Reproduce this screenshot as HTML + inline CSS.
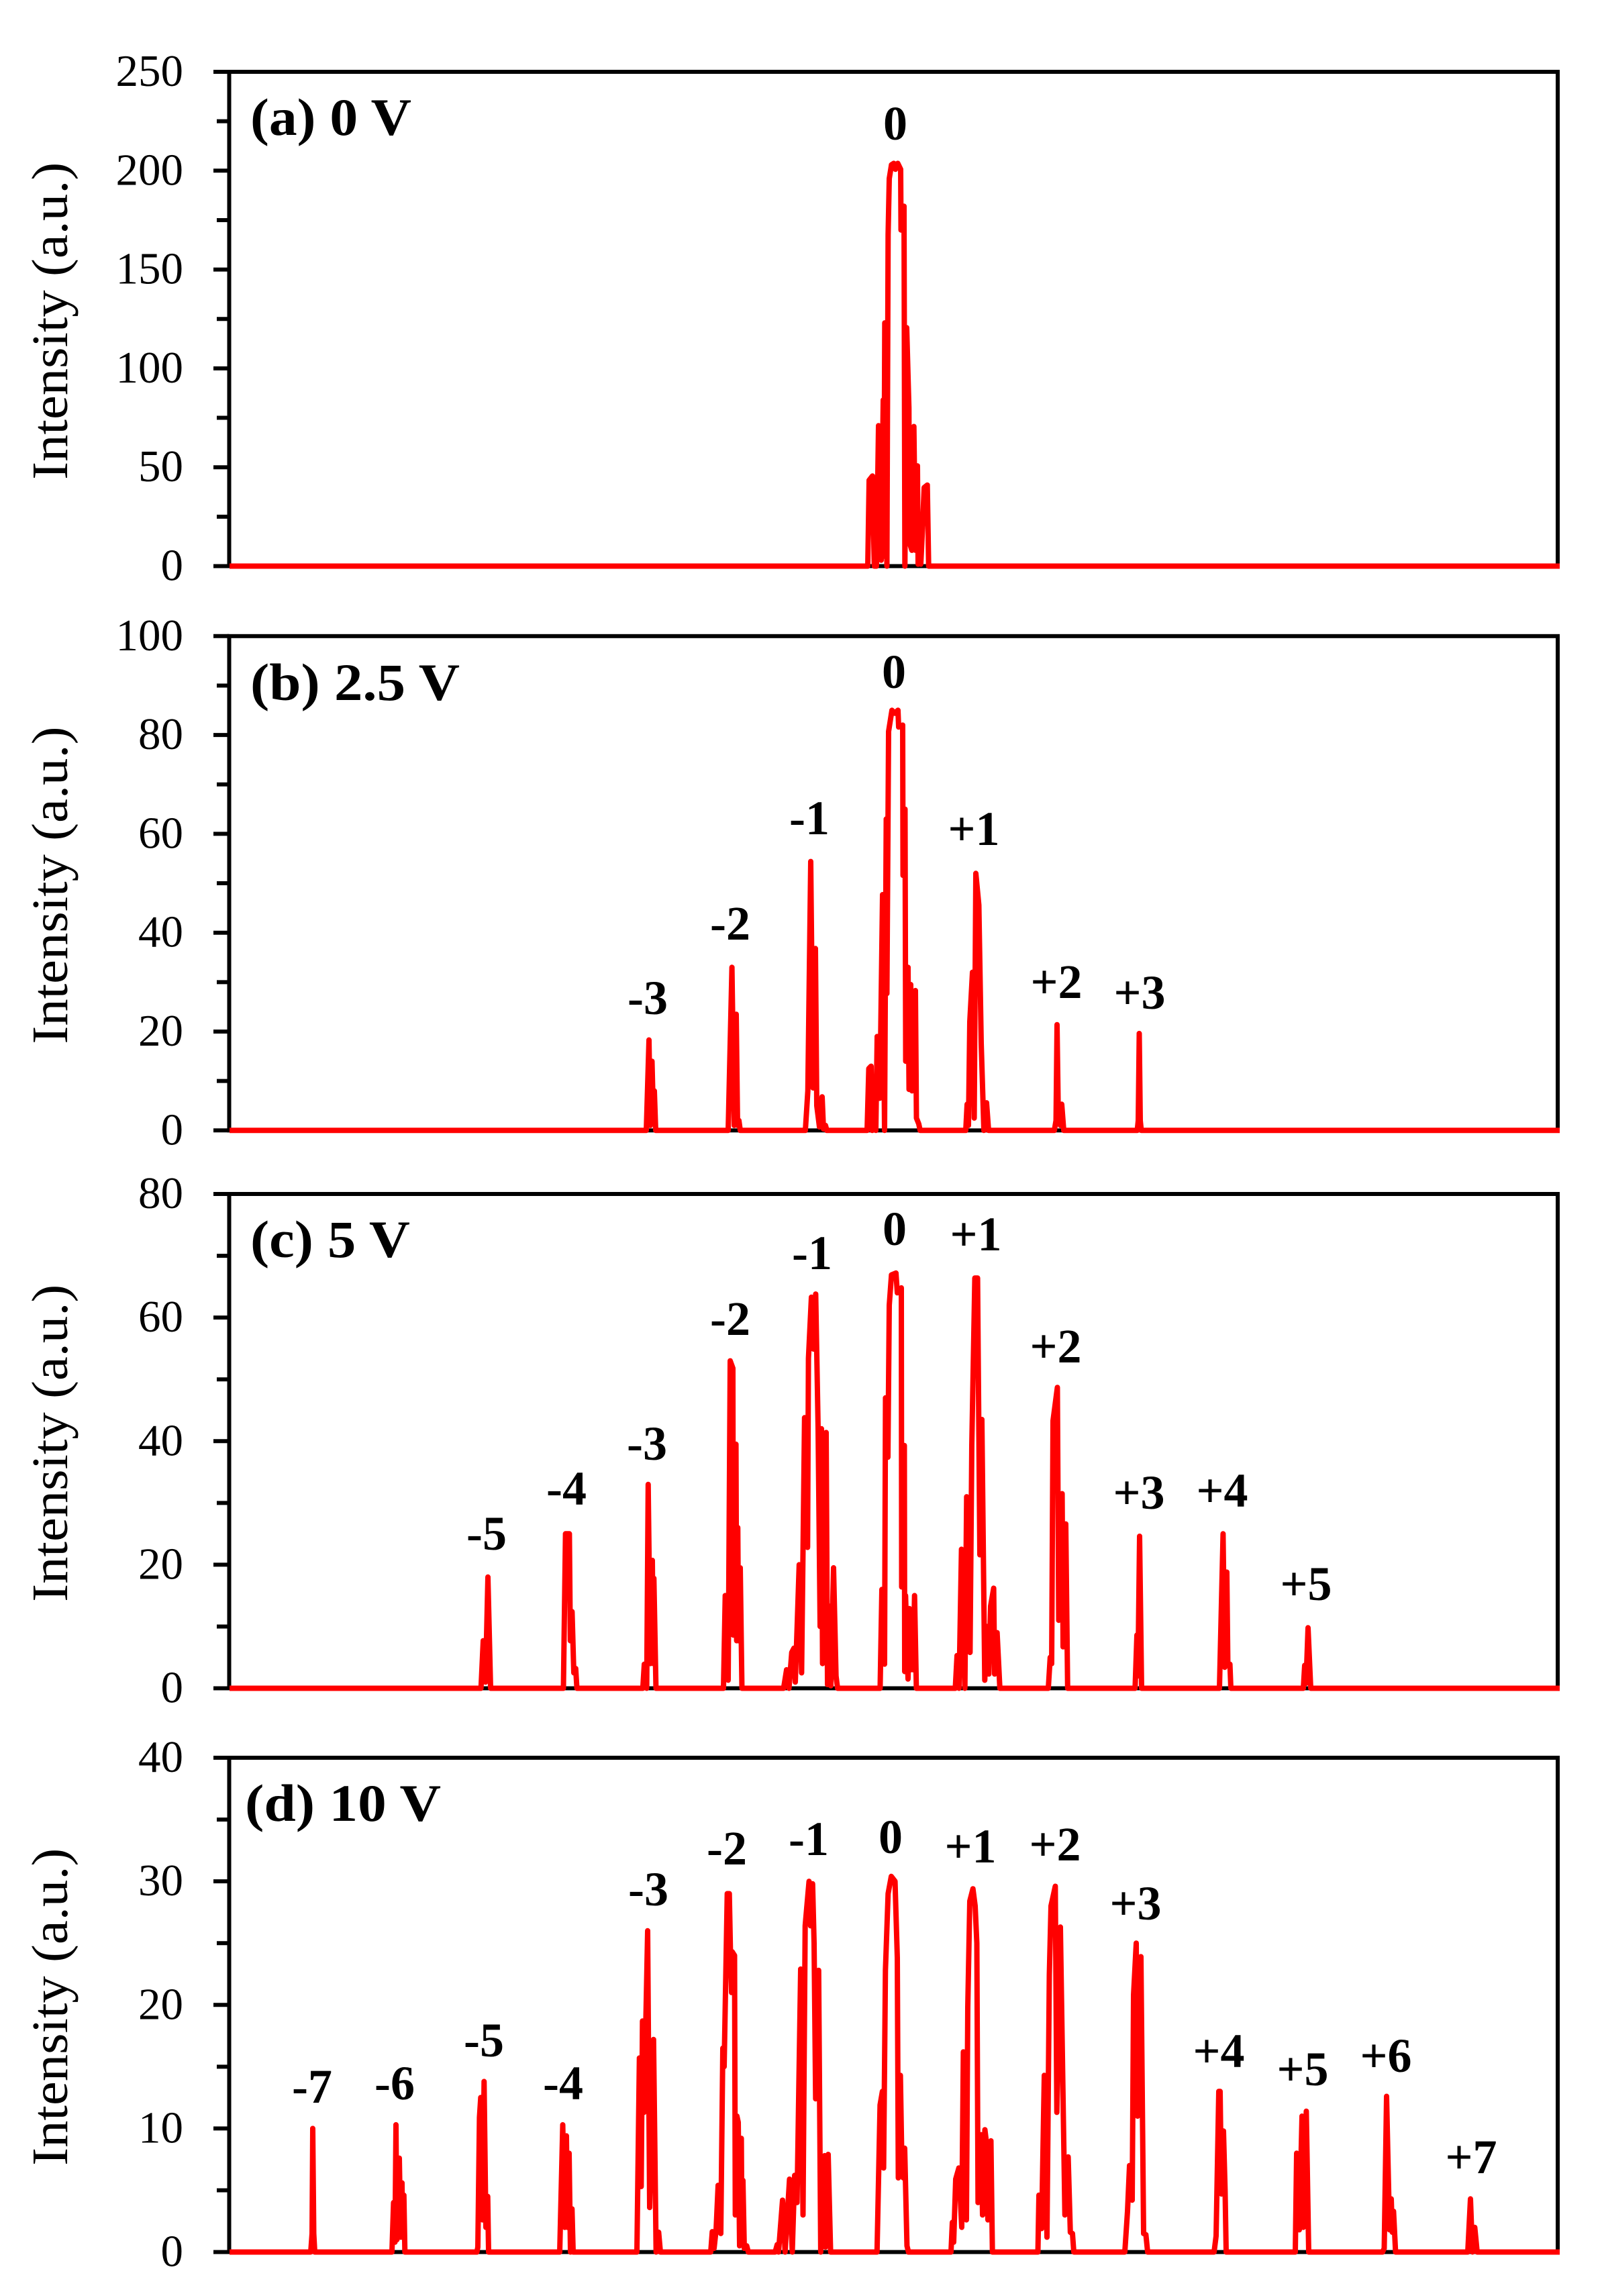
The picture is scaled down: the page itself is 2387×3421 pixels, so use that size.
<!DOCTYPE html>
<html lang="en">
<head>
<meta charset="utf-8">
<title>Intensity spectra at 0, 2.5, 5 and 10 V</title>
<style>
html,body{margin:0;padding:0;background:#fff;}
svg{display:block;}
text{font-family:"Liberation Serif",serif;fill:#000;}
.tick-label{font-size:67px;text-anchor:end;}
.axis-title{font-size:76px;text-anchor:middle;}
.panel-title{font-size:78px;font-weight:bold;}
.order{font-size:72px;font-weight:bold;text-anchor:middle;}
</style>
</head>
<body>
<svg id="chart" xmlns="http://www.w3.org/2000/svg" width="2387" height="3421" viewBox="0 0 2387 3421">
  <rect x="0" y="0" width="2387" height="3421" fill="#fff"/>

  <text class="panel-title" x="373" y="201" textLength="240" lengthAdjust="spacingAndGlyphs">(a) 0 V</text>
  <text class="panel-title" x="373" y="1043" textLength="312" lengthAdjust="spacingAndGlyphs">(b) 2.5 V</text>
  <text class="panel-title" x="373" y="1873" textLength="238" lengthAdjust="spacingAndGlyphs">(c) 5 V</text>
  <text class="panel-title" x="365" y="2713" textLength="292" lengthAdjust="spacingAndGlyphs">(d) 10 V</text>

  <text class="order" x="1334" y="208">0</text>

  <text class="order" x="965" y="1511">-3</text>
  <text class="order" x="1088" y="1400">-2</text>
  <text class="order" x="1206" y="1243">-1</text>
  <text class="order" x="1332" y="1025">0</text>
  <text class="order" x="1451" y="1259">+1</text>
  <text class="order" x="1574" y="1487">+2</text>
  <text class="order" x="1698" y="1503">+3</text>

  <text class="order" x="725" y="2309">-5</text>
  <text class="order" x="844" y="2242">-4</text>
  <text class="order" x="964" y="2175">-3</text>
  <text class="order" x="1088" y="1989">-2</text>
  <text class="order" x="1210" y="1891">-1</text>
  <text class="order" x="1333" y="1855">0</text>
  <text class="order" x="1454" y="1863">+1</text>
  <text class="order" x="1573" y="2030">+2</text>
  <text class="order" x="1697" y="2248">+3</text>
  <text class="order" x="1821" y="2245">+4</text>
  <text class="order" x="1946" y="2384">+5</text>

  <text class="order" x="465" y="3133">-7</text>
  <text class="order" x="588" y="3128">-6</text>
  <text class="order" x="721" y="3064">-5</text>
  <text class="order" x="839" y="3128">-4</text>
  <text class="order" x="966" y="2839">-3</text>
  <text class="order" x="1083" y="2778">-2</text>
  <text class="order" x="1205" y="2764">-1</text>
  <text class="order" x="1327" y="2761">0</text>
  <text class="order" x="1446" y="2775">+1</text>
  <text class="order" x="1572" y="2772">+2</text>
  <text class="order" x="1692" y="2860">+3</text>
  <text class="order" x="1816" y="3080">+4</text>
  <text class="order" x="1941" y="3107">+5</text>
  <text class="order" x="2065" y="3087">+6</text>
  <text class="order" x="2192" y="3238">+7</text>
</svg>
<script>
// Each sample is [relative wavelength, intensity in a.u.]
const panelASamples = [[3,0],[954,0],[956,43.4],[961,45.6],[963.7,0],[967,0],[970,71],[972.7,70.6],[974,3],[977,84],[978,5],[979.3,123],[982.5,0],[984.3,167.6],[986,196],[989.3,203],[992.7,203.7],[995.3,200.7],[998.7,203.7],[1003,200.7],[1003.5,170],[1008,182],[1009.3,0],[1012,120.6],[1015.3,80],[1016,12],[1019.7,8],[1022.7,70.6],[1025,8],[1028,50.7],[1029,1],[1031,22],[1033,1],[1035,15],[1038,39.7],[1042.7,41],[1044.7,0],[1985,0]];

const panelBSamples = [[3,0],[624,0],[628,18.3],[630,1],[632.5,14],[634.5,3],[636,8],[638,0],[746,0],[751.6,33],[755,1],[758,23.5],[760,1],[762,2],[764,0],[861,0],[864.7,8],[869,54.4],[872.5,8.6],[876,36.8],[878,5],[882,0.7],[886,6.8],[888,0.3],[891,1],[893,0],[953,0],[955.5,12.5],[959,13],[960.5,0],[963.5,7],[966,0],[968,19],[972,6.5],[976,47.7],[979,0],[981.5,63],[982.5,27.7],[985,80.7],[990,85],[994,84.4],[999,85],[1000,81.6],[1006,82],[1006.5,51.6],[1009.5,65],[1010.5,14],[1014,33],[1015.5,8.3],[1018,29.5],[1020,8],[1025,28.3],[1026.5,2.5],[1030,1.3],[1032,0],[1100,0],[1102,5.3],[1104,1],[1106,22],[1110,32],[1112.6,2.5],[1115,52],[1119.5,45.6],[1123,17.7],[1127,0],[1131,5.6],[1134,0],[1232,0],[1234.5,2],[1236,21.4],[1238,2],[1241,1],[1243,5.3],[1246,0],[1355.5,0],[1357,2],[1358.5,19.6],[1360,2],[1361.5,0],[1985,0]];

const panelCSamples = [[3,0],[377.7,0],[381,7.7],[384.4,1],[388,18],[392,0],[500.5,0],[503.6,25],[509.4,25],[510.8,7.7],[513.4,12.4],[516,2.5],[518.8,3.2],[520.6,0],[618.8,0],[621,3.9],[624.6,0],[626.8,33],[630,4],[633,20.7],[634.4,4],[635.3,17.8],[638.4,0],[739,0],[741.6,15],[746,1.3],[749,53],[753,51.8],[753.7,8.6],[757.6,39.5],[758.6,7.7],[760.3,26],[761.5,7.7],[764,19.5],[766.5,0],[828.6,0],[833,3],[836.6,0],[840.7,5.8],[844,6.5],[846,1],[851.8,20],[855.4,2.5],[859.8,43.8],[864.3,22.8],[865.6,53.4],[870,63.3],[873,54.9],[876.4,63.8],[880,42],[883,10],[885,42],[886.6,4],[892,41.4],[894,0.6],[897,13.3],[899,0.4],[903,19.5],[906.7,2],[909,0],[972.4,0],[975,16],[979,3.9],[980.4,47],[984,37.4],[986,62],[989.3,66.9],[996,67.2],[998,64],[1004,64.8],[1004.5,16.4],[1008.5,39.3],[1009,2.7],[1010.3,15],[1014,1.5],[1016,12.9],[1018,3],[1019.7,10],[1021.5,3],[1023.7,15],[1026.4,0],[1084.4,0],[1087,5.3],[1090,0],[1093.6,22.5],[1098.7,0],[1101.3,31],[1106.4,5.8],[1109,39.3],[1113.5,66.4],[1117.6,66.4],[1121,21.6],[1124,43.5],[1128.3,1.3],[1131.4,10],[1134.4,2.3],[1137,13.3],[1141.6,16.2],[1143,2.3],[1146.7,9],[1150.8,0],[1223,0],[1225.8,5],[1228,4],[1230,43.3],[1236.5,48.7],[1238.5,11],[1243.6,31.5],[1245,6.7],[1249,26.6],[1251.8,0],[1352.3,0],[1355,8.6],[1356.5,2],[1359,24.6],[1362,0],[1478,0],[1483.4,25],[1486,3.4],[1489,18.8],[1490.5,3.9],[1493.6,3.9],[1495,0],[1603,0],[1605,3.7],[1607,0.8],[1610,9.8],[1614,0],[1985,0]];

const panelDSamples = [[3,0],[124,0],[126,1.5],[127,10],[128.5,1.5],[130,0],[245,0],[247.4,4],[249.5,0.8],[251,10.3],[252.4,1],[256,7.6],[258,1.2],[260,5.6],[261,1.2],[262.8,4.6],[264.3,0],[371.6,0],[373,0.4],[375.4,10.9],[377.3,12.5],[380,2.6],[382.3,13.8],[385,2],[387.7,4.5],[389,0],[495,0],[499.5,10.3],[502.6,2],[505,9.4],[506.5,2],[509,8],[511,0],[513.3,3.5],[515,0],[610,0],[613.7,15.7],[616.4,5.3],[618.3,18.7],[620.6,11.3],[626,26],[629,3.6],[634.8,17.2],[638.6,0],[642.4,1.6],[645,0],[720,0],[722.3,1.65],[725,0.3],[728,1.8],[731,5.4],[735,1.5],[738,16.5],[740,15],[744.6,29],[747.7,29],[749.5,24],[751,21],[752,24.3],[755.5,24],[756.6,3],[759,11],[761,10.5],[763,0.5],[765.6,9.2],[766.5,1],[768,5.8],[770,0.3],[773.6,0.5],[776,0],[816,0],[819,0.6],[821,0],[827,4.2],[830.8,0],[837.4,5.9],[841.5,0],[845,6.2],[848.6,4],[854,22.9],[857.5,3],[860.7,26.4],[866.5,30],[868.7,26.4],[871.8,29.8],[874,25],[876.3,12.4],[880.8,22.8],[883.9,0],[889.7,7.8],[891,0.4],[895,7.9],[898.6,0],[967.8,0],[972.3,11.9],[975.8,13],[977.6,6.8],[980.3,22.8],[984.3,29],[989,30.4],[994.6,30],[998,23.8],[999.5,6],[1002.6,14.3],[1005,6.5],[1007,6],[1009,8.4],[1012.4,0.5],[1014.7,0],[1078,0],[1080,2.4],[1082,0.8],[1085,5.9],[1089.7,6.8],[1094,2],[1096.4,16.2],[1101,2.6],[1103,19.8],[1106,28.4],[1110.7,29.4],[1114,28],[1116.5,25],[1118.3,4],[1123,9.5],[1125,3],[1128.5,9.9],[1130.5,9],[1133,2.6],[1137.5,9],[1139.7,0],[1142,0],[1207.5,0],[1209,4.6],[1213,1.9],[1217,14.3],[1221,1.2],[1224.5,22.4],[1227,28],[1233.4,29.6],[1235.7,11.3],[1241,26.3],[1244.6,13.8],[1247.7,3],[1252.6,7.7],[1255.8,1.6],[1259,1.5],[1261,0],[1337,0],[1341,3.3],[1344,7],[1348,4.2],[1350,20.8],[1354,25],[1356,11],[1361,23.9],[1365,1.5],[1368.4,1.4],[1371,0],[1470,0],[1473,1.3],[1477,13],[1479,13],[1481,4.7],[1484,9.8],[1486.4,5],[1488,0],[1591,0],[1593,8],[1597,1.8],[1601,11],[1603,2],[1607.4,11.4],[1611,0],[1721,0],[1723.5,0.3],[1727,12.6],[1731.4,1.8],[1734,4.3],[1735.5,1.6],[1737.4,3.3],[1740.4,0],[1848,0],[1852,4.3],[1855,0],[1858.4,2],[1862,0],[1985,0]];

const panelAMajorTicks = [0,50,100,150,200,250];
const panelBMajorTicks = [0,20,40,60,80,100];
const panelCMajorTicks = [0,20,40,60,80];
const panelDMajorTicks = [0,10,20,30,40];

const panelAMinorTicks = [25,75,125,175,225];
const panelBMinorTicks = [10,30,50,70,90];
const panelCMinorTicks = [10,30,50,70];
const panelDMinorTicks = [5,15,25,35];

const xDomain = [0,1981];
const plotLeft = 339;
const plotRight = 2320;
const axisLeft = 341.5;
const axisRight = 2321;
const svgNS = 'http://www.w3.org/2000/svg';
const svg = document.getElementById('chart');

function xScale(v){
  return plotLeft + (v - xDomain[0]) / (xDomain[1] - xDomain[0]) * (plotRight - plotLeft);
}
function yScale(v, top, bottom, maxVal){
  return bottom - v / maxVal * (bottom - top);
}
function addLine(x1,y1,x2,y2,width,name){
  const l = document.createElementNS(svgNS,'line');
  l.setAttribute('x1',x1);
  l.setAttribute('y1',y1);
  l.setAttribute('x2',x2);
  l.setAttribute('y2',y2);
  l.setAttribute('stroke','#000');
  l.setAttribute('stroke-width',width);
  
  
  svg.appendChild(l);
}
function drawPanel(id, top, bottom, samples, majors, minors){
  const maxVal = majors[majors.length-1];
  const frame = document.createElementNS(svgNS,'rect');
  frame.setAttribute('x',axisLeft);
  frame.setAttribute('y',top);
  frame.setAttribute('width',axisRight-axisLeft);
  frame.setAttribute('height',bottom-top);
  frame.setAttribute('fill','none');
  frame.setAttribute('stroke','#000');
  frame.setAttribute('stroke-width','6');
  
  
  svg.appendChild(frame);

  majors.forEach(function(t){
    const y = yScale(t,top,bottom,maxVal);
    addLine(318,y,axisLeft,y,6,'major-tick');
    const label = document.createElementNS(svgNS,'text');
    label.setAttribute('class','tick-label');
    label.setAttribute('x',273);
    label.setAttribute('y',y+21);
    label.textContent = t;
    
    
    svg.appendChild(label);
  });
  minors.forEach(function(t){
    const y = yScale(t,top,bottom,maxVal);
    addLine(323,y,axisLeft,y,6,'minor-tick');
  });

  const title = document.createElementNS(svgNS,'text');
  const cy = (top+bottom)/2 + 3;
  title.setAttribute('class','axis-title');
  title.setAttribute('transform','translate(100,'+cy+') rotate(-90)');
  title.setAttribute('textLength','473');
  title.setAttribute('lengthAdjust','spacingAndGlyphs');
  title.textContent = 'Intensity (a.u.)';
  
  
  svg.appendChild(title);

  const d = samples.map(function(s,i){
    return (i?'L':'M') + xScale(s[0]).toFixed(1) + ' ' + yScale(s[1],top,bottom,maxVal).toFixed(1);
  }).join('');
  const path = document.createElementNS(svgNS,'path');
  path.setAttribute('d',d);
  path.setAttribute('fill','none');
  path.setAttribute('stroke','#ff0000');
  path.setAttribute('stroke-width','8');
  path.setAttribute('stroke-linejoin','round');
  path.setAttribute('stroke-linecap','butt');
  
  
  svg.appendChild(path);
}
drawPanel('a',107,843.5,panelASamples,panelAMajorTicks,panelAMinorTicks);
drawPanel('b',947.8,1684.3,panelBSamples,panelBMajorTicks,panelBMinorTicks);
drawPanel('c',1779,2515.5,panelCSamples,panelCMajorTicks,panelCMinorTicks);
drawPanel('d',2619,3355.5,panelDSamples,panelDMajorTicks,panelDMinorTicks);
</script>
</body>
</html>
